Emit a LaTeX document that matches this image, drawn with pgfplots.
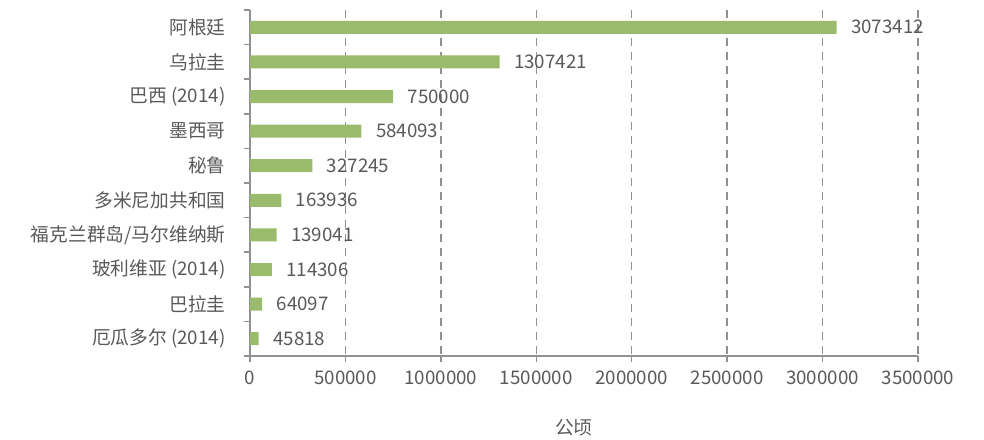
\documentclass[border=0pt]{standalone}
\usepackage{pgfplots}
\pgfplotsset{compat=1.18}
\usepackage{pgfplotstable}
\usepackage{fontspec}
\setmainfont{Noto Sans CJK SC}
\definecolor{bargreen}{RGB}{155,187,108}
\definecolor{txt}{RGB}{89,89,89}
\definecolor{axgray}{RGB}{145,145,145}
\pgfplotstableread[col sep=comma]{
y,x,lab
0,3073412,3073412
1,1307421,1307421
2,750000,750000
3,584093,584093
4,327245,327245
5,163936,163936
6,139041,139041
7,114306,114306
8,64097,64097
9,45818,45818
}\datatab
\begin{document}
\begin{tikzpicture}
\useasboundingbox (0,0) rectangle (984bp,440bp);
\begin{axis}[
  at={(250bp,84bp)}, anchor=south west,
  scale only axis, width=668bp, height=346bp,
  xbar, bar width=13bp,
  xmin=0, xmax=3500000,
  ymin=-0.5, ymax=9.5, y dir=reverse,
  axis x line*=bottom, axis y line*=left,
  axis line style={draw=axgray, line width=1.5bp},
  xtick={0,500000,...,3500000},
  scaled x ticks=false,
  xticklabel style={/pgf/number format/fixed,/pgf/number format/1000 sep={}, /pgf/number format/assume math mode=true},
  ytick={-0.5,0.5,...,9.5},
  yticklabels={},
  extra y ticks={0,...,9},
  extra y tick labels={阿根廷,乌拉圭,巴西 (2014),墨西哥,秘鲁,多米尼加共和国,福克兰群岛/马尔维纳斯,玻利维亚 (2014),巴拉圭,厄瓜多尔 (2014)},
  extra y tick style={major tick length=0pt, tick style={draw=none}},
  tick align=outside,
  major tick length=6bp,
  tick style={draw=axgray, line width=1.5bp},
  xmajorgrids,
  major grid style={draw=axgray, line width=1.5bp, dash pattern=on 8bp off 6bp},
  tick label style={font=\fontsize{18.8}{21}\selectfont, text=txt},
  yticklabel style={xshift=-21bp},
  xticklabel style={yshift=-5bp},
  xlabel={公顷},
  xlabel style={font=\fontsize{18.8}{21}\selectfont, text=txt, at={(axis description cs:0.485,0)}, anchor=center, yshift=-72bp},
  point meta=explicit symbolic,
  nodes near coords,
  every node near coord/.append style={font=\fontsize{18.8}{21}\selectfont, text=txt, anchor=west, xshift=11bp},
  clip=false,
]
\addplot[fill=bargreen, draw=none] table[x=x, y=y, meta=lab] {\datatab};
\end{axis}
\end{tikzpicture}
\end{document}
